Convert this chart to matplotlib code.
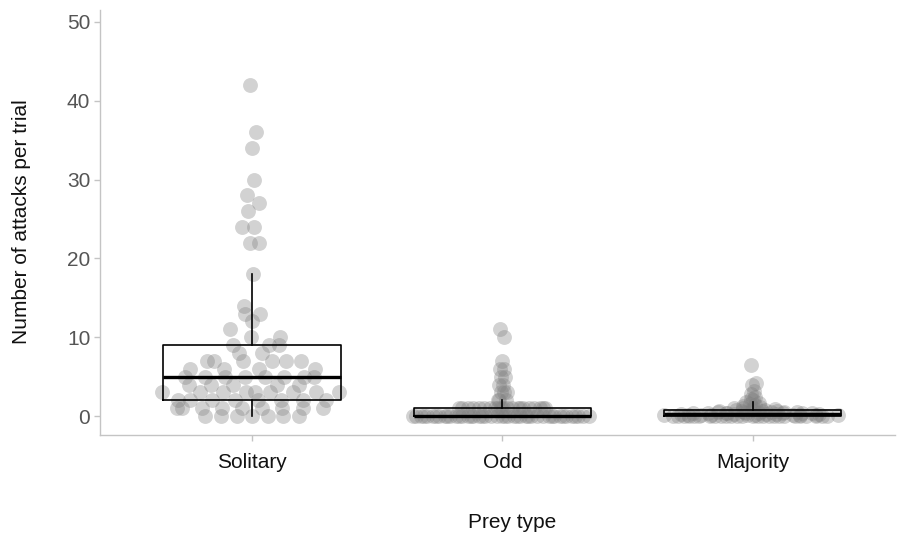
import numpy as np
import matplotlib
matplotlib.use("Agg")
import matplotlib.pyplot as plt

plt.rcParams['font.family'] = ['Liberation Sans', 'DejaVu Sans']

# attacks per trial
categories = ["Solitary", "Odd", "Majority"]

solitary = ([0] * 7 + [1] * 9 + [2] * 8 + [3] * 9 + [4] * 5 + [5] * 8 + [6] * 4 +
            [7] * 6 + [8] * 2 + [9] * 3 + [10] * 2 + [11, 12, 13, 13, 14, 18, 22, 22,
            24, 24, 26, 27, 28, 30, 34, 36, 42])

odd = [0] * 44 + [1] * 21 + [2] * 3 + [3, 3, 3, 4, 4, 5, 5, 6, 6, 7, 10, 11]

majority = ([0] * 26 + [0.1] * 3 + [0.17] * 3 + [0.2] * 4 + [0.25] * 5 + [0.33] * 5 +
            [0.4] * 4 + [0.5] * 5 + [0.6, 0.6, 0.67, 0.7, 0.75, 0.8, 0.8, 0.9, 1.0,
            1.0, 1.0, 1.2, 1.25, 1.4, 1.5, 1.6, 1.75, 2.0, 2.2, 2.4, 2.8, 3.2, 4.0,
            4.2, 6.5])

groups = [solitary, odd, majority]
yticks = [0, 10, 20, 30, 40, 50]


def vdc(n, base=2):
    # van der Corput sequence, as in quasirandom beeswarm
    out = 0.0
    denom = 1.0
    while n:
        denom *= base
        n, rem = divmod(n, base)
        out += rem / denom
    return out


def quasirandom(vals, width=0.37):
    vals = np.asarray(vals, dtype=float)
    n = len(vals)
    sd = vals.std(ddof=1)
    iqr = np.subtract(*np.percentile(vals, [75, 25]))
    bw = 0.9 * min(sd, iqr / 1.34 if iqr > 0 else sd) * n ** -0.2
    dens = np.exp(-0.5 * ((vals[:, None] - vals[None, :]) / bw) ** 2).sum(axis=1)
    dens = dens / dens.max()
    order = np.argsort(vals, kind="stable")
    offs = np.zeros(n)
    for rank, idx in enumerate(order):
        offs[idx] = (vdc(rank + 1) - 0.5) * 2 * width * dens[idx]
    return offs


fig = plt.figure(figsize=(8.97, 5.40), dpi=100)
ax = fig.add_axes([0.1115, 0.1944, 0.8865, 0.787])

for i, vals in enumerate(groups):
    x = i + 1 + quasirandom(vals)
    ax.scatter(x, vals, s=115, color="grey", alpha=0.35, linewidths=0, zorder=2)

ax.boxplot(groups, positions=[1, 2, 3], widths=0.71, whis=1.5, showfliers=False,
           showcaps=False, patch_artist=False, zorder=3,
           boxprops=dict(color="black", linewidth=1.2),
           whiskerprops=dict(color="black", linewidth=1.2),
           medianprops=dict(color="black", linewidth=2.4))

ax.set_xlim(0.392, 3.57)
ax.set_ylim(-2.4, 51.5)
ax.set_xticks([1, 2, 3])
ax.set_xticklabels(categories)
ax.set_yticks(yticks)

for side in ["top", "right"]:
    ax.spines[side].set_visible(False)
for side in ["left", "bottom"]:
    ax.spines[side].set_color("#C4C4C4")
    ax.spines[side].set_linewidth(1.0)

ax.tick_params(axis="both", colors="#C4C4C4", length=4, width=1.0)
ax.tick_params(axis="y", labelcolor="#555555", labelsize=15, pad=3)
ax.tick_params(axis="x", labelcolor="#111111", labelsize=15, pad=9)

fig.text(22 / 897, 1 - 222 / 540, "Number of attacks per trial", rotation=90,
         ha="center", va="center", fontsize=15, color="#111111")
fig.text(512 / 897, 1 - 523 / 540, "Prey type", ha="center", va="center",
         fontsize=15, color="#111111")

fig.savefig("out.png", dpi=100)
